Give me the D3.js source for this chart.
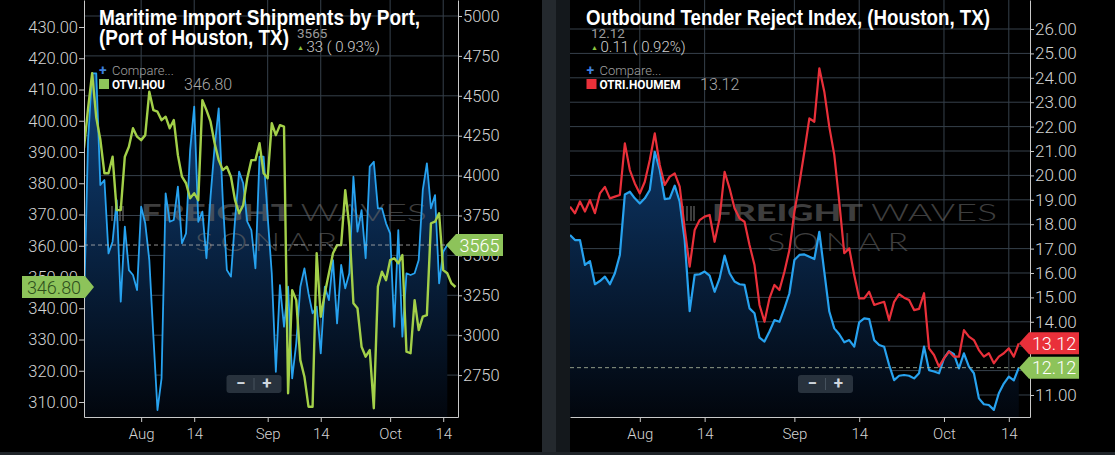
<!DOCTYPE html>
<html>
<head>
<meta charset="utf-8">
<script src="https://cdn.jsdelivr.net/npm/d3@7"></script>
<style>
  html, body { margin: 0; padding: 0; background: #000; }
  svg { display: block; }
</style>
</head>
<body>
<svg id="chart" width="1115" height="455"></svg>
<script>
// ---- data (daily points from Jul 18) ----
const firstDay = "2021-07-18";

// left panel, left axis: OTVI.HOU
const otviHou = [
  391.2, 404.0, 415.2, 401.0, 394.0, 383.2, 383.2, 388.5, 371.4, 371.4,
  388.5, 391.7, 397.6, 394.9, 393.8, 395.4, 409.3, 403.4, 402.9, 400.2,
  401.3, 397.6, 400.2, 389.0, 382.1, 380.0, 375.2, 376.8, 374.6, 406.6,
  403.4, 399.7, 392.8, 387.4, 384.2, 385.3, 382.1, 374.6, 370.4, 373.0,
  381.6, 387.4, 387.4, 392.8, 383.2, 381.6, 399.2, 395.4, 398.6, 398.1,
  312.8, 345.8, 342.6, 323.4, 318.1, 308.5, 308.5, 357.6, 337.3, 344.8,
  351.2, 357.6, 360.2, 360.2, 377.8, 366.1, 341.6, 340.0, 327.7, 324.5,
  326.6, 308.0, 346.9, 351.7, 349.0, 355.4, 356.0, 354.4, 357.0, 326.1,
  325.6, 342.6, 333.0, 337.3, 337.8, 367.2, 367.7, 370.4, 352.2, 351.2,
  348.0, 346.8
];

// left panel, right axis: maritime import shipments, Port of Houston
const importShipments = [
  3179, 4223, 4641, 4641, 3941, 3972, 3513, 3586, 3847, 3210,
  3680, 3408, 3377, 3283, 3805, 3701, 3471, 2991, 2531, 2730,
  3889, 3711, 3722, 3931, 3576, 3638, 4160, 4432, 3711, 3774,
  3482, 3868, 4181, 4421, 3847, 3408, 3367, 3722, 4025, 3952,
  3711, 3659, 3419, 4119, 4119, 3743, 3388, 2771, 3314, 3053,
  3304, 2730, 2949, 3304, 3419, 3262, 3137, 3179, 2886, 3304,
  3220, 3471, 3074, 3440, 3294, 3388, 3993, 3649, 3784, 3482,
  4056, 4087, 3795, 3795, 3701, 3638, 3053, 3659, 2991, 3388,
  3377, 3388, 3471, 3910, 4077, 3795, 3878, 3325, 3523, 3565
];

// right panel: OTRI Houston (blue) and OTRI.HOUMEM (red)
const otriHou = [
  17.56, 17.35, 17.35, 16.33, 16.49, 15.54, 15.67, 15.85, 15.54, 15.99,
  16.74, 19.22, 19.33, 19.06, 18.85, 19.06, 19.40, 20.97, 20.22, 19.03,
  19.06, 19.58, 18.92, 17.35, 14.44, 15.92, 15.95, 16.06, 15.89, 15.23,
  15.78, 16.71, 15.99, 15.65, 15.54, 15.51, 14.55, 14.35, 13.35, 13.19,
  13.60, 14.07, 14.00, 14.55, 15.17, 16.53, 16.74, 16.76, 16.67, 16.57,
  17.69, 16.05, 14.42, 13.73, 13.49, 13.16, 13.25, 12.98, 13.98, 14.14,
  14.11, 13.25, 13.05, 12.98, 12.23, 11.61, 11.79, 11.82, 11.79, 11.68,
  11.89, 12.98, 12.02, 11.96, 11.89, 12.50, 12.80, 12.67, 12.09, 12.71,
  12.16, 11.89, 10.86, 10.62, 10.59, 10.39, 11.07, 11.47, 11.75, 11.60,
  12.12
];
const otriHouMem = [
  18.72, 18.45, 18.93, 18.52, 18.99, 18.45, 19.26, 19.53, 19.06, 19.13,
  19.20, 21.31, 20.22, 19.67, 19.26, 19.74, 20.63, 21.72, 20.43, 19.61,
  19.95, 20.08, 19.54, 17.83, 16.26, 17.76, 18.17, 18.31, 18.38, 17.28,
  18.24, 20.15, 19.47, 18.65, 18.24, 18.10, 17.15, 16.33, 14.69, 14.00,
  14.96, 15.51, 15.30, 16.05, 16.94, 18.51, 19.67, 20.97, 22.34, 22.20,
  24.39, 23.43, 21.99, 20.84, 18.92, 16.81, 17.01, 15.92, 14.96, 14.96,
  15.23, 14.69, 14.76, 14.82, 14.07, 14.82, 15.13, 14.99, 14.89, 14.48,
  14.53, 15.17, 12.91, 12.64, 12.16, 12.50, 12.78, 12.57, 12.57, 13.66,
  13.39, 13.25, 12.84, 12.57, 12.71, 12.30, 12.57, 12.71, 12.91, 12.57,
  13.12
];

const dateTicks = ["2021-08-01", "2021-08-14", "2021-09-01", "2021-09-14", "2021-10-01", "2021-10-14"];
const dateTickLabels = ["Aug", "14", "Sep", "14", "Oct", "14"];
const otviTicks = [310, 320, 330, 340, 350, 360, 370, 380, 390, 400, 410, 420, 430];
const importTicks = [2750, 3000, 3250, 3500, 3750, 4000, 4250, 4500, 4750, 5000];
const otriTicks = [11, 12, 13, 14, 15, 16, 17, 18, 19, 20, 21, 22, 23, 24, 25, 26];
// tick labels sitting fully under the price tags on the right panel
const otriHiddenLabels = [12, 13];

// ---- setup ----
const parseDay = d3.timeParse("%Y-%m-%d");
const day0 = parseDay(firstDay);
const toPoints = vals => vals.map((v, i) => ({ date: d3.timeDay.offset(day0, i), value: v }));
const tickDates = dateTicks.map(parseDay);

const BLUE = "#27a2ef", GREEN = "#a3d049", RED = "#e9303a", TAG_GREEN = "#8dc35a";
const plotBottom = 417;

const svg = d3.select("#chart");
const defs = svg.append("defs");

const grad = defs.append("linearGradient")
  .attr("id", "blueFill")
  .attr("gradientUnits", "userSpaceOnUse")
  .attr("x1", 0).attr("y1", 0).attr("x2", 0).attr("y2", plotBottom);
grad.append("stop").attr("offset", 0).attr("stop-color", "#124d8c");
grad.append("stop").attr("offset", 0.5).attr("stop-color", "#0a2a50");
grad.append("stop").attr("offset", 1).attr("stop-color", "#02060d");

// panel divider and bottom strip
svg.append("rect").attr("x", 542).attr("y", 0).attr("width", 14).attr("height", 455).attr("fill", "#24292e");
svg.append("rect").attr("x", 556).attr("y", 0).attr("width", 14).attr("height", 455).attr("fill", "#14181c");
svg.append("rect").attr("x", 0).attr("y", 452).attr("width", 1115).attr("height", 3).attr("fill", "#1f2429");

function grid(g, x, y, hTicks, x0, x1) {
  g.append("g").selectAll("line").data(hTicks).join("line")
    .attr("x1", x0).attr("x2", x1)
    .attr("y1", d => y(d)).attr("y2", d => y(d))
    .attr("stroke", "#36404b").attr("stroke-width", 1);
  g.append("g").selectAll("line").data(tickDates).join("line")
    .attr("x1", d => x(d)).attr("x2", d => x(d))
    .attr("y1", 0).attr("y2", plotBottom)
    .attr("stroke", "#36404b").attr("stroke-width", 1);
}

// FreightWaves SONAR mark behind the lines
function watermark(g, x0, x1, sx0, sx1) {
  const wm = g.append("g").attr("opacity", 0.6).attr("fill", "#686868");
  [0, 4, 8, 11].forEach(o => wm.append("rect")
    .attr("x", x0 - 30 + o).attr("y", 206).attr("width", 2).attr("height", 15));
  const split = x0 + (x1 - x0) * 0.53;
  wm.append("text")
    .attr("x", x0).attr("y", 221)
    .attr("font-family", "Lato, 'DejaVu Sans', sans-serif")
    .attr("font-weight", 900).attr("font-size", 23)
    .attr("textLength", split - x0).attr("lengthAdjust", "spacingAndGlyphs")
    .text("FREIGHT");
  wm.append("text")
    .attr("x", split + 8).attr("y", 221)
    .attr("font-family", "Lato, 'DejaVu Sans', sans-serif")
    .attr("font-weight", 300).attr("font-size", 23)
    .attr("textLength", x1 - split - 8).attr("lengthAdjust", "spacingAndGlyphs")
    .text("WAVES");
  wm.append("text")
    .attr("x", sx0).attr("y", 251)
    .attr("font-family", "Lato, 'DejaVu Sans', sans-serif")
    .attr("font-weight", 300).attr("font-size", 25).attr("letter-spacing", 5)
    .attr("textLength", sx1 - sx0).attr("lengthAdjust", "spacingAndGlyphs")
    .text("SONAR");
}

function styleAxis(g, size) {
  g.selectAll(".domain").attr("stroke", "#c9c9c9");
  g.selectAll(".tick line").attr("stroke", "#c9c9c9");
  g.selectAll(".tick text")
    .attr("fill", "#d4d4d4")
    .attr("font-family", "Roboto, sans-serif")
    .attr("font-weight", 300)
    .attr("font-size", size);
}

function bottomAxis(g, x) {
  const ax = g.append("g")
    .attr("transform", `translate(0,${plotBottom})`)
    .call(d3.axisBottom(x).tickValues(tickDates)
      .tickFormat((d, i) => dateTickLabels[i]).tickSize(5).tickSizeOuter(0).tickPadding(6));
  styleAxis(ax, 15);
}

function tagRight(g, tipX, cy, w, label, fill, textFill) {
  g.append("path")
    .attr("d", `M${tipX},${cy} L${tipX + 10},${cy - 11} L${tipX + w},${cy - 11} L${tipX + w},${cy + 11} L${tipX + 10},${cy + 11} Z`)
    .attr("fill", fill);
  g.append("text")
    .attr("x", tipX + 10 + (w - 10) / 2).attr("y", cy + 6.5)
    .attr("text-anchor", "middle")
    .attr("font-family", "Roboto, sans-serif").attr("font-weight", 300)
    .attr("font-size", 18).attr("fill", textFill)
    .text(label);
}

function zoomBox(g, cx) {
  g.append("rect").attr("x", cx - 27.5).attr("y", 375).attr("width", 55).attr("height", 18)
    .attr("rx", 3).attr("fill", "#28323d");
  g.append("line").attr("x1", cx).attr("x2", cx).attr("y1", 378).attr("y2", 390).attr("stroke", "#46525e");
  g.append("text").attr("x", cx - 13).attr("y", 389).attr("text-anchor", "middle")
    .attr("fill", "#cfd6dd").attr("font-family", "Roboto, sans-serif").attr("font-weight", 700)
    .attr("font-size", 17).text("\u2212");
  g.append("text").attr("x", cx + 13).attr("y", 389).attr("text-anchor", "middle")
    .attr("fill", "#cfd6dd").attr("font-family", "Roboto, sans-serif").attr("font-weight", 700)
    .attr("font-size", 17).text("+");
}

function header(g, x, lines) {
  lines.forEach((l, i) => g.append("text")
    .attr("x", x).attr("y", 25 + i * 20)
    .attr("font-family", "Liberation Sans Narrow, Arial Narrow, sans-serif")
    .attr("font-weight", 700).attr("font-size", 22).attr("fill", "#fff")
    .attr("textLength", l.w).attr("lengthAdjust", "spacingAndGlyphs")
    .text(l.text));
}

function quoteBlock(g, x, quote, change) {
  g.append("text").attr("x", x).attr("y", 38)
    .attr("font-family", "Roboto, sans-serif").attr("font-size", 13.5)
    .attr("fill", "#9c9c9c").text(quote);
  g.append("text").attr("x", x).attr("y", 50)
    .attr("font-size", 7).attr("fill", "#8cc63f").text("\u25B2");
  g.append("text").attr("x", x + 9.5).attr("y", 51.5)
    .attr("font-family", "Roboto, sans-serif").attr("font-weight", 300).attr("font-size", 15)
    .attr("fill", "#d0d0d0").text(change);
}

function legend(g, x, name, nameW, swatch, last, lastX) {
  g.append("text").attr("x", x).attr("y", 75)
    .attr("font-family", "Roboto, sans-serif").attr("font-weight", 700).attr("font-size", 14)
    .attr("fill", "#3d7fdc").text("+");
  g.append("text").attr("x", x + 13).attr("y", 75)
    .attr("font-family", "Roboto, sans-serif").attr("font-weight", 300).attr("font-size", 13)
    .attr("fill", "#a0a0a0").text("Compare...");
  g.append("rect").attr("x", x).attr("y", 79).attr("width", 10).attr("height", 10).attr("fill", swatch);
  g.append("text").attr("x", x + 13).attr("y", 89)
    .attr("font-family", "Roboto, sans-serif").attr("font-weight", 700).attr("font-size", 13)
    .attr("fill", "#fff").attr("textLength", nameW).attr("lengthAdjust", "spacingAndGlyphs")
    .text(name);
  g.append("text").attr("x", lastX).attr("y", 90)
    .attr("font-family", "Roboto, sans-serif").attr("font-weight", 300).attr("font-size", 16)
    .attr("fill", "#a8a8a8").text(last);
}

// ---- left panel ----
{
  const x = d3.scaleTime().domain([day0, new Date(2021, 9, 17, 15)]).range([84, 458]);
  const yL = d3.scaleLinear().domain([305.2, 438.64]).range([plotBottom, 0]);
  const yR = d3.scaleLinear().domain([2487.5, 5100.25]).range([plotBottom, 0]);
  const g = svg.append("g");

  defs.append("clipPath").attr("id", "clipL").append("rect")
    .attr("x", 84).attr("y", 0).attr("width", 374).attr("height", plotBottom);

  grid(g, x, yR, importTicks, 84, 458);

  const blue = toPoints(importShipments);
  const green = toPoints(otviHou);
  const plot = g.append("g").attr("clip-path", "url(#clipL)");

  plot.append("path").datum(blue)
    .attr("fill", "url(#blueFill)")
    .attr("d", d3.area().x(d => x(d.date)).y0(plotBottom).y1(d => yR(d.value)));

  watermark(plot, 141, 427, 195, 344);

  const lastBlue = blue[blue.length - 1];
  g.append("line").attr("x1", 84).attr("x2", 446)
    .attr("y1", yR(lastBlue.value)).attr("y2", yR(lastBlue.value))
    .attr("stroke", "#b5b5b5").attr("stroke-dasharray", "4,3").attr("opacity", 0.8);

  plot.append("path").datum(blue)
    .attr("fill", "none").attr("stroke", BLUE).attr("stroke-width", 1.8)
    .attr("stroke-linejoin", "round")
    .attr("d", d3.line().x(d => x(d.date)).y(d => yR(d.value)));
  plot.append("path").datum(green)
    .attr("fill", "none").attr("stroke", GREEN).attr("stroke-width", 2.4)
    .attr("stroke-linejoin", "round")
    .attr("d", d3.line().x(d => x(d.date)).y(d => yL(d.value)));

  const axL = g.append("g").attr("transform", "translate(84,0)")
    .call(d3.axisLeft(yL).tickValues(otviTicks).tickFormat(d3.format(".2f"))
      .tickSize(5).tickSizeOuter(0).tickPadding(1));
  styleAxis(axL, 16.5);
  const axR = g.append("g").attr("transform", "translate(458,0)")
    .call(d3.axisRight(yR).tickValues(importTicks).tickFormat(d3.format("d"))
      .tickSize(4).tickSizeOuter(0).tickPadding(1));
  styleAxis(axR, 16.5);
  bottomAxis(g, x);

  zoomBox(g, 254);

  // value tags
  tagRight(g, 446, yR(lastBlue.value), 57, d3.format("d")(lastBlue.value), TAG_GREEN, "#fff");
  const lastGreen = green[green.length - 1];
  const gy = yL(lastGreen.value);
  g.append("path")
    .attr("d", `M22,${gy - 11} L85,${gy - 11} L94,${gy} L85,${gy + 11} L22,${gy + 11} Z`)
    .attr("fill", TAG_GREEN);
  g.append("text").attr("x", 54).attr("y", gy + 6.5).attr("text-anchor", "middle")
    .attr("font-family", "Roboto, sans-serif").attr("font-weight", 300).attr("font-size", 18)
    .attr("fill", "#2e4f1c").text(d3.format(".2f")(lastGreen.value));

  quoteBlock(g, 297, d3.format("d")(lastBlue.value), "33 ( 0.93%)");
  header(g, 99, [
    { text: "Maritime Import Shipments by Port,", w: 321 },
    { text: "(Port of Houston, TX)", w: 190 }
  ]);
  legend(g, 99, "OTVI.HOU", 53, TAG_GREEN, d3.format(".2f")(lastGreen.value), 184);
}

// ---- right panel ----
{
  const x = d3.scaleTime().domain([day0, new Date(2021, 9, 18, 6)]).range([570, 1030]);
  const y = d3.scaleLinear().domain([10.098, 27.189]).range([plotBottom, 0]);
  const g = svg.append("g");

  svg.append("rect").attr("x", 570).attr("y", 0).attr("width", 545).attr("height", 452)
    .attr("fill", "#000").lower();

  defs.append("clipPath").attr("id", "clipR").append("rect")
    .attr("x", 570).attr("y", 0).attr("width", 460).attr("height", plotBottom);

  grid(g, x, y, otriTicks, 570, 1030);

  const blue = toPoints(otriHou);
  const red = toPoints(otriHouMem);
  const plot = g.append("g").attr("clip-path", "url(#clipR)");

  plot.append("path").datum(blue)
    .attr("fill", "url(#blueFill)")
    .attr("d", d3.area().x(d => x(d.date)).y0(plotBottom).y1(d => y(d.value)));

  watermark(plot, 712, 997, 767, 915);

  const lastBlue = blue[blue.length - 1];
  const lastRed = red[red.length - 1];
  g.append("line").attr("x1", 570).attr("x2", 1019)
    .attr("y1", y(lastBlue.value)).attr("y2", y(lastBlue.value))
    .attr("stroke", "#a9b49a").attr("stroke-dasharray", "4,3").attr("opacity", 0.85);

  plot.append("path").datum(blue)
    .attr("fill", "none").attr("stroke", BLUE).attr("stroke-width", 2.2)
    .attr("stroke-linejoin", "round")
    .attr("d", d3.line().x(d => x(d.date)).y(d => y(d.value)));
  plot.append("path").datum(red)
    .attr("fill", "none").attr("stroke", RED).attr("stroke-width", 2.2)
    .attr("stroke-linejoin", "round")
    .attr("d", d3.line().x(d => x(d.date)).y(d => y(d.value)));

  const ax = g.append("g").attr("transform", "translate(1030,0)")
    .call(d3.axisRight(y).tickValues(otriTicks)
      .tickFormat(d => otriHiddenLabels.includes(d) ? "" : d3.format(".2f")(d))
      .tickSize(4).tickSizeOuter(0).tickPadding(1));
  styleAxis(ax, 17);
  bottomAxis(g, x);

  zoomBox(g, 825.5);

  tagRight(g, 1019, y(lastRed.value), 60, d3.format(".2f")(lastRed.value), RED, "#fff");
  tagRight(g, 1019, y(lastBlue.value), 60, d3.format(".2f")(lastBlue.value), TAG_GREEN, "#fff");

  quoteBlock(g, 591, d3.format(".2f")(lastBlue.value), "0.11 ( 0.92%)");
  header(g, 586, [{ text: "Outbound Tender Reject Index, (Houston, TX)", w: 404 }]);
  legend(g, 586.5, "OTRI.HOUMEM", 81, RED, d3.format(".2f")(lastRed.value), 700);
}
</script>
</body>
</html>
